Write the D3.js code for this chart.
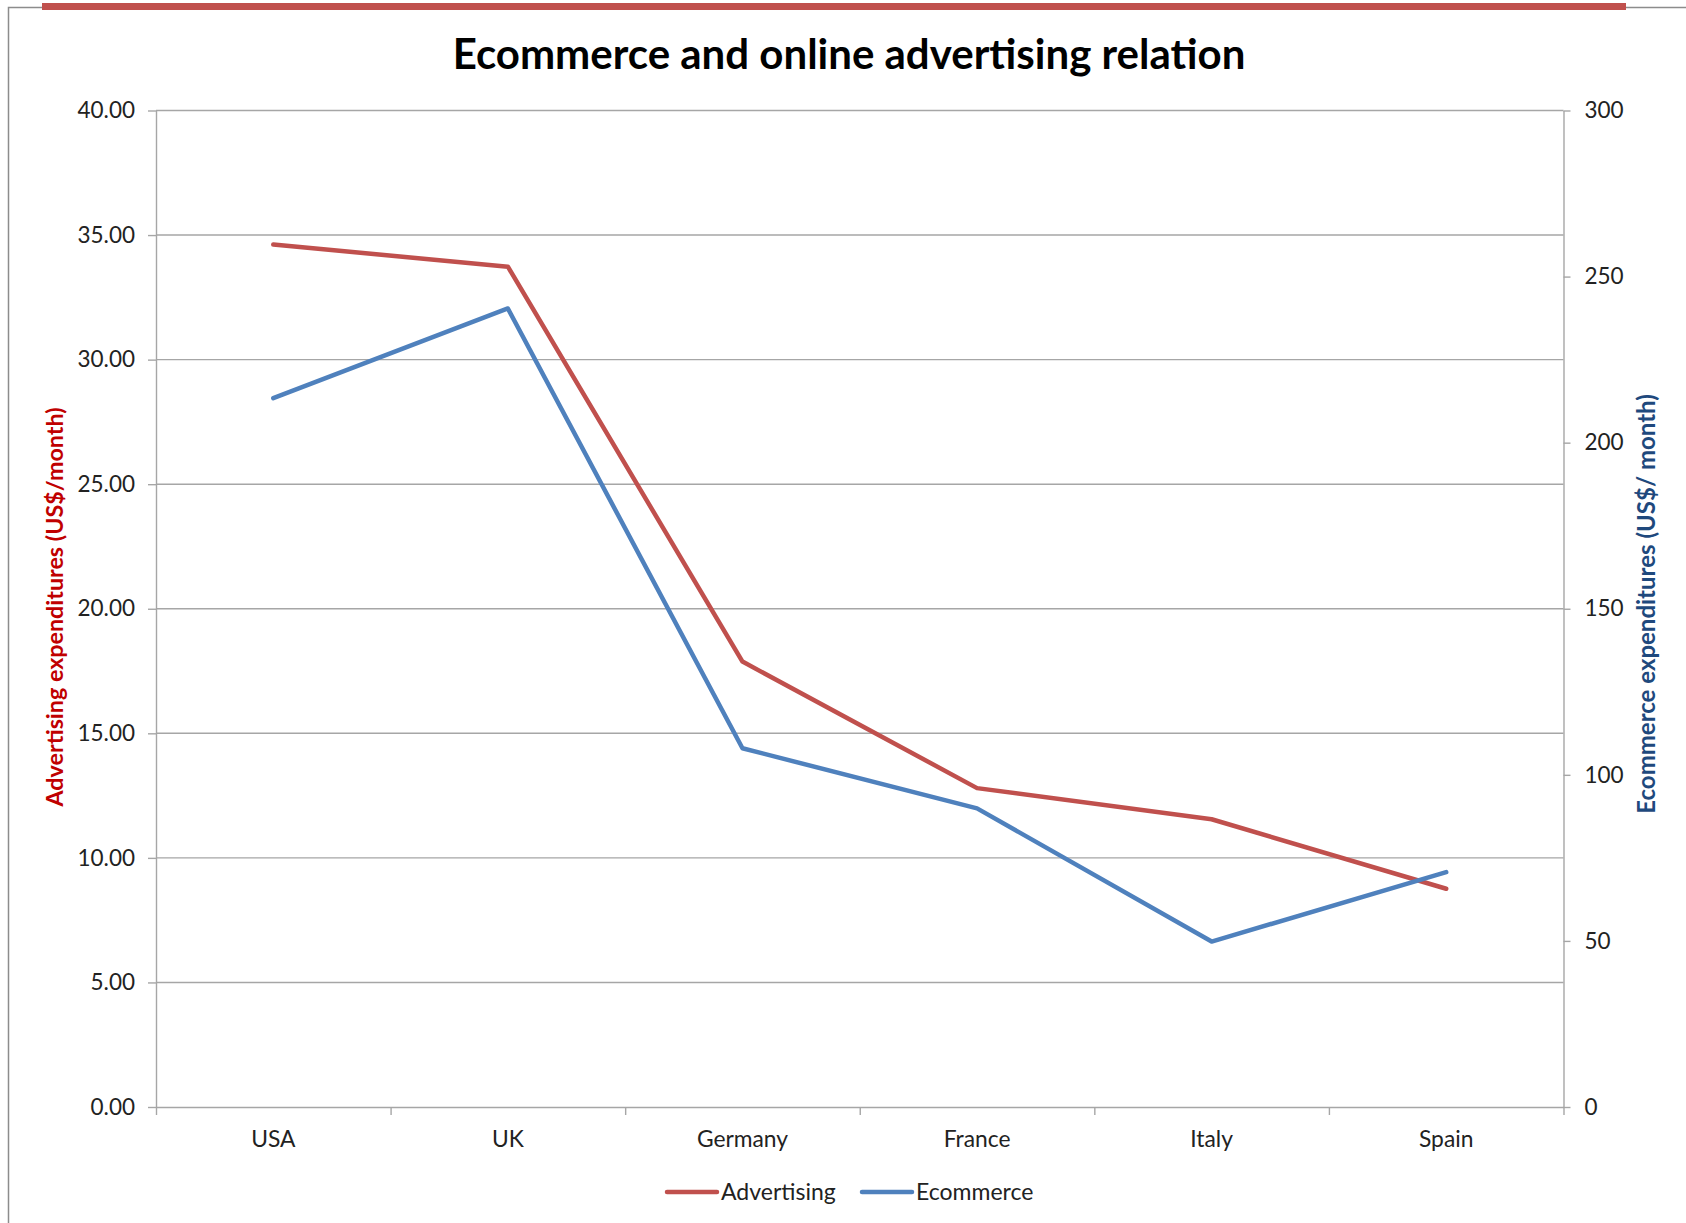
<!DOCTYPE html>
<html>
<head>
<meta charset="utf-8">
<script src="https://cdn.jsdelivr.net/npm/d3@7"></script>
<style>
  html, body { margin: 0; padding: 0; background: #fff; }
  svg { display: block; }
</style>
</head>
<body>
<script>
// Countries on the category axis
const categories = ["USA", "UK", "Germany", "France", "Italy", "Spain"];
// Monthly online advertising spend per user (US$) - left axis
const advertising = [34.62, 33.73, 17.88, 12.80, 11.55, 8.76];
// Monthly ecommerce spend per user (US$) - right axis
const ecommerce = [213.4, 240.4, 108.0, 89.9, 49.8, 70.7];
// Axis tick values
const leftTicks = [0, 5, 10, 15, 20, 25, 30, 35, 40];
const rightTicks = [0, 50, 100, 150, 200, 250, 300];
const seriesNames = ["Advertising", "Ecommerce"];

const W = 1686, H = 1223;
const plot = { left: 156, right: 1563.5, top: 110.5, bottom: 1107 };
const RED = "#C0504D", BLUE = "#4F81BD";
const FONT = "Lato, 'Open Sans', sans-serif";

const svg = d3.select("body").append("svg")
  .attr("width", W).attr("height", H);

// outer chart frame and accent bar
svg.append("rect")
  .attr("x", 8.5).attr("y", 7.5).attr("width", W).attr("height", H)
  .attr("fill", "none").attr("stroke", "#8c8c8c").attr("stroke-width", 1.5);
svg.append("rect")
  .attr("x", 42).attr("y", 3).attr("width", 1584).attr("height", 7)
  .attr("fill", RED);

const x = d3.scaleBand().domain(categories).range([plot.left, plot.right]).padding(0);
const xEdge = d3.scaleLinear().domain([0, categories.length]).range([plot.left, plot.right]);
const yL = d3.scaleLinear().domain([0, 40]).range([plot.bottom, plot.top]);
const yR = d3.scaleLinear().domain([0, 300]).range([plot.bottom, plot.top]);
const cx = c => x(c) + x.bandwidth() / 2;

const GRID = "#a6a6a6";
const TICK_FS = 22.5;

// horizontal gridlines
svg.append("g").selectAll("line")
  .data(leftTicks.filter(t => t > 0))
  .join("line")
  .attr("x1", plot.left).attr("x2", plot.right)
  .attr("y1", d => yL(d)).attr("y2", d => yL(d))
  .attr("stroke", GRID).attr("stroke-width", 1.4);

// left axis
const gL = svg.append("g").attr("transform", `translate(${plot.left},0)`)
  .call(d3.axisLeft(yL).tickValues(leftTicks).tickFormat(d3.format(".2f"))
    .tickSizeInner(8).tickSizeOuter(0).tickPadding(13));
// right axis
const gR = svg.append("g").attr("transform", `translate(${plot.right},0)`)
  .call(d3.axisRight(yR).tickValues(rightTicks).tickFormat(d3.format("d"))
    .tickSizeInner(7).tickSizeOuter(0).tickPadding(14));
// bottom axis: ticks at category boundaries, labels centred in each band
const gB = svg.append("g").attr("transform", `translate(0,${plot.bottom})`)
  .call(d3.axisBottom(xEdge).tickValues(d3.range(categories.length + 1))
    .tickFormat("").tickSizeInner(8).tickSizeOuter(0));
svg.append("g").selectAll("text")
  .data(categories)
  .join("text")
  .attr("x", d => cx(d)).attr("y", 1147)
  .attr("text-anchor", "middle")
  .attr("font-family", FONT).attr("font-size", 22.8).attr("fill", "#222")
  .text(d => d);

[gL, gR, gB].forEach(g => {
  g.selectAll(".domain").attr("stroke", GRID).attr("stroke-width", 1.4);
  g.selectAll(".tick line").attr("stroke", GRID).attr("stroke-width", 1.4);
  g.selectAll("text").attr("font-family", FONT).attr("font-size", TICK_FS).attr("fill", "#222");
});

// series lines
const line = yScale => d3.line().x((d, i) => cx(categories[i])).y(d => yScale(d));
svg.append("path").datum(advertising)
  .attr("d", line(yL)).attr("fill", "none")
  .attr("stroke", RED).attr("stroke-width", 4.5)
  .attr("stroke-linejoin", "round").attr("stroke-linecap", "round");
svg.append("path").datum(ecommerce)
  .attr("d", line(yR)).attr("fill", "none")
  .attr("stroke", BLUE).attr("stroke-width", 4.5)
  .attr("stroke-linejoin", "round").attr("stroke-linecap", "round");

// title
svg.append("text")
  .attr("x", 849).attr("y", 69)
  .attr("text-anchor", "middle")
  .attr("font-family", FONT).attr("font-weight", 700).attr("font-size", 42)
  .attr("fill", "#000")
  .text("Ecommerce and online advertising relation");

// axis titles
svg.append("text")
  .attr("transform", "translate(63,607) rotate(-90)")
  .attr("text-anchor", "middle")
  .attr("font-family", FONT).attr("font-weight", 700).attr("font-size", 23.3)
  .attr("fill", "#C00000")
  .text("Advertising expenditures (US$/month)");
svg.append("text")
  .attr("transform", "translate(1655,604) rotate(-90)")
  .attr("text-anchor", "middle")
  .attr("font-family", FONT).attr("font-weight", 700).attr("font-size", 24)
  .attr("fill", "#1F497D")
  .text("Ecommerce expenditures (US$/ month)");

// legend
const legend = svg.append("g");
const legendItems = [
  { name: seriesNames[0], color: RED, x: 667 },
  { name: seriesNames[1], color: BLUE, x: 862 }
];
legendItems.forEach(it => {
  legend.append("line")
    .attr("x1", it.x).attr("x2", it.x + 50)
    .attr("y1", 1192).attr("y2", 1192)
    .attr("stroke", it.color).attr("stroke-width", 4.5).attr("stroke-linecap", "round");
  legend.append("text")
    .attr("x", it.x + 54).attr("y", 1200)
    .attr("font-family", FONT).attr("font-size", 23).attr("fill", "#222")
    .text(it.name);
});
</script>
</body>
</html>
